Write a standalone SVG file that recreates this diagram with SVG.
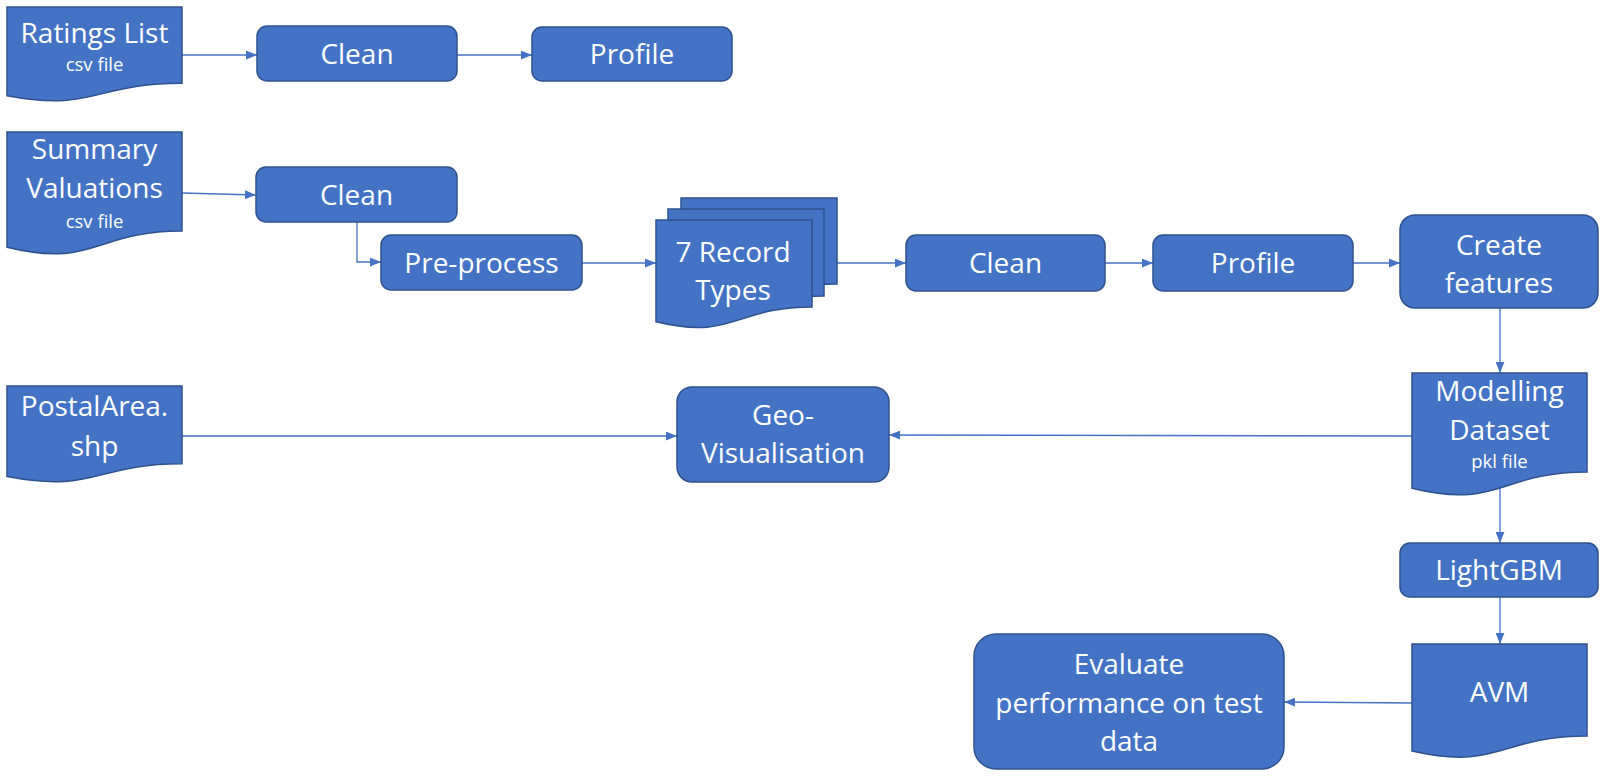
<svg xmlns="http://www.w3.org/2000/svg" width="1600" height="779" viewBox="0 0 1600 779">
<defs>
<marker id="arr" viewBox="0 0 10 8" refX="10" refY="4" markerWidth="11" markerHeight="9" markerUnits="userSpaceOnUse" orient="auto">
<path d="M0,0 L10,4 L0,8 Z" fill="#4472C4"/>
</marker>
</defs>
<style>
.box{fill:#4472C4;stroke:#2F528F;stroke-width:1.5}
.t{fill:#FFFFFF;font-family:"Open Sans","Noto Sans",sans-serif;font-size:28px;text-anchor:middle}
.s{fill:#FFFFFF;font-family:"Open Sans","Noto Sans",sans-serif;font-size:18.5px;text-anchor:middle}
.c{fill:none;stroke:#4472C4;stroke-width:1.3;marker-end:url(#arr)}
</style>
<rect width="1600" height="779" fill="#FFFFFF"/>
<g id="connectors">
<path class="c" d="M182,55 H257"/>
<path class="c" d="M457,55 H532"/>
<path class="c" d="M182,193 L256,195"/>
<path class="c" d="M357,222 V262 H381"/>
<path class="c" d="M582,263 H656"/>
<path class="c" d="M837,263 H906"/>
<path class="c" d="M1105,263 H1153"/>
<path class="c" d="M1353,263 H1400"/>
<path class="c" d="M1500,308 V373"/>
<path class="c" d="M1412,436 L889,435"/>
<path class="c" d="M182,436 H677"/>
<path class="c" d="M1500,488 V543"/>
<path class="c" d="M1500,597 V644"/>
<path class="c" d="M1412,703 L1284,702"/>
</g>
<g id="ratings-list">
<path class="box" d="M7,7 H182 V83.2 C94.5,83.2 94.5,112.2 7,95.7 Z"/>
<text class="t" x="94.5" y="43">Ratings List</text>
<text class="s" x="94.5" y="71">csv file</text>
</g>
<g id="clean1">
<rect class="box" x="257" y="26" width="200" height="55" rx="10"/>
<text class="t" x="357" y="64">Clean</text>
</g>
<g id="profile1">
<rect class="box" x="532" y="27" width="200" height="54" rx="10"/>
<text class="t" x="632" y="64">Profile</text>
</g>
<g id="summary-valuations">
<path class="box" d="M7,132 H182 V231 C94.5,231 94.5,268.7 7,247.3 Z"/>
<text class="t" x="94.5" y="159">Summary</text>
<text class="t" x="94.5" y="198">Valuations</text>
<text class="s" x="94.5" y="228">csv file</text>
</g>
<g id="clean2">
<rect class="box" x="256" y="167" width="201" height="55" rx="10"/>
<text class="t" x="356.5" y="204.5">Clean</text>
</g>
<g id="preprocess">
<rect class="box" x="381" y="235" width="201" height="55" rx="10"/>
<text class="t" x="481.5" y="272.5">Pre-process</text>
</g>
<g id="record-types">
<path class="box" d="M681,198 H837 V284 C759,284 759,316.5 681,298 Z"/>
<path class="box" d="M668,209 H824 V296 C746,296 746,328.5 668,310 Z"/>
<path class="box" d="M656,220 H812 V307 C734,307 734,340.7 656,321.8 Z"/>
<text class="t" x="733" y="262">7 Record</text>
<text class="t" x="733" y="300">Types</text>
</g>
<g id="clean3">
<rect class="box" x="906" y="235" width="199" height="56" rx="10"/>
<text class="t" x="1005.5" y="273">Clean</text>
</g>
<g id="profile2">
<rect class="box" x="1153" y="235" width="200" height="56" rx="10"/>
<text class="t" x="1253" y="273">Profile</text>
</g>
<g id="create-features">
<rect class="box" x="1400" y="215" width="198" height="93" rx="15"/>
<text class="t" x="1499" y="255">Create</text>
<text class="t" x="1499" y="293">features</text>
</g>
<g id="postal-area">
<path class="box" d="M7,386 H182 V463.8 C94.5,463.8 94.5,493.4 7,476.6 Z"/>
<text class="t" x="94.5" y="416">PostalArea.</text>
<text class="t" x="94.5" y="456">shp</text>
</g>
<g id="geo-visualisation">
<rect class="box" x="677" y="387" width="212" height="95" rx="15"/>
<text class="t" x="783" y="425">Geo-</text>
<text class="t" x="783" y="463">Visualisation</text>
</g>
<g id="modelling-dataset">
<path class="box" d="M1412,373 H1587 V472 C1499.5,472 1499.5,509.7 1412,488.3 Z"/>
<text class="t" x="1499.5" y="401">Modelling</text>
<text class="t" x="1499.5" y="440">Dataset</text>
<text class="s" x="1499.5" y="468">pkl file</text>
</g>
<g id="lightgbm">
<rect class="box" x="1400" y="543" width="198" height="54" rx="10"/>
<text class="t" x="1499" y="580">LightGBM</text>
</g>
<g id="avm">
<path class="box" d="M1412,644 H1587 V736 C1499.5,736 1499.5,771 1412,751 Z"/>
<text class="t" x="1499.5" y="702">AVM</text>
</g>
<g id="evaluate">
<rect class="box" x="974" y="634" width="310" height="135" rx="22"/>
<text class="t" x="1129" y="674">Evaluate</text>
<text class="t" x="1129" y="713">performance on test</text>
<text class="t" x="1129" y="751">data</text>
</g>
</svg>
